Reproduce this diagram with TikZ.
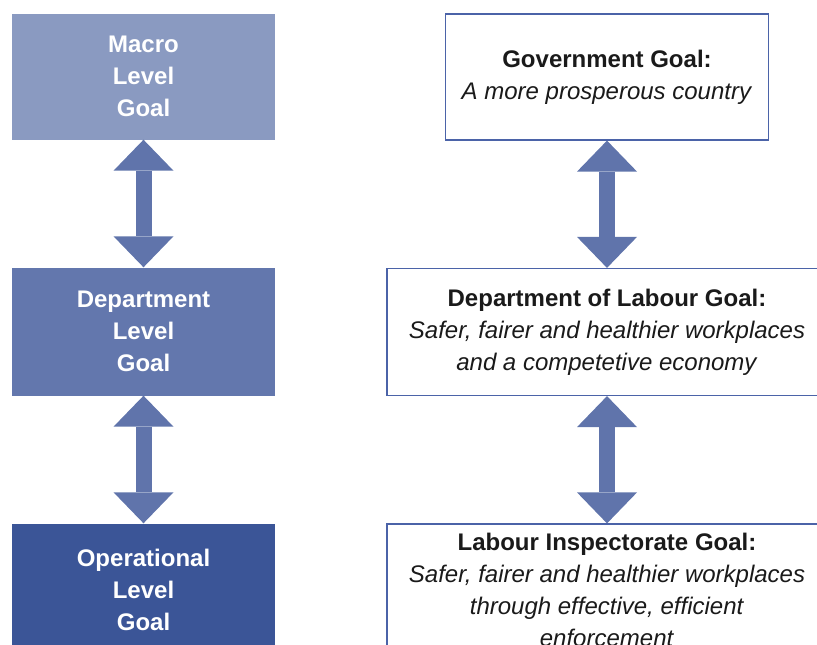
\documentclass[tikz,border=0pt]{standalone}
\usepackage{fontspec}
\setmainfont{Liberation Sans}
\usetikzlibrary{arrows.meta}
\definecolor{macroblue}{HTML}{8A9AC1}
\definecolor{deptblue}{HTML}{6377AD}
\definecolor{opblue}{HTML}{3B5597}
\definecolor{arrowblue}{HTML}{6074AB}
\definecolor{edgeblue}{HTML}{4B63A8}
\definecolor{goaltext}{HTML}{1A1A1A}

\begin{document}
\begin{tikzpicture}[x=1pt, y=-1pt,
    levelbox/.style={rectangle, minimum width=263pt, inner sep=0pt,
      align=center, text=white, font=\fontsize{24}{32}\selectfont\bfseries},
    goalbox/.style={rectangle, draw=edgeblue, line width=1.2pt, fill=white,
      inner sep=0pt, align=center, text=goaltext,
      font=\fontsize{24}{32}\selectfont},
    bigarrow/.style={arrowblue, line width=16pt,
      {Triangle[width=60pt,length=31pt,line width=0pt]}-{Triangle[width=60pt,length=31pt,line width=0pt]}}]
    \clip (0,0) rectangle (817,645);

    % levels on the left
    \node[levelbox, fill=macroblue, minimum height=126pt] (macro) at (143.5,76.5)
      {Macro\\Level\\Goal};
    \node[levelbox, fill=deptblue, minimum height=128pt] (deptlvl) at (143.5,331.5)
      {Department\\Level\\Goal};
    \node[levelbox, fill=opblue, minimum height=132pt] (oplvl) at (143.5,589.5)
      {Operational\\Level\\Goal};

    % goals on the right
    \node[goalbox, minimum width=323pt, minimum height=126pt] (govgoal) at (607,77)
      {\textbf{Government Goal:}\\\textit{A more prosperous country}};
    \node[goalbox, minimum width=440pt, minimum height=127pt] (labgoal) at (607,332)
      {\textbf{Department of Labour Goal:}\\\textit{Safer, fairer and healthier workplaces}\\
       \textit{and a competetive economy}};
    \node[goalbox, minimum width=440pt, minimum height=132pt] (inspgoal) at (607,590)
      {\textbf{Labour Inspectorate Goal:}\\\textit{Safer, fairer and healthier workplaces}\\
       \textit{through effective, efficient}\\\textit{enforcement}};

    % double arrows
    \draw[bigarrow] (macro) -- (deptlvl);
    \draw[bigarrow] (deptlvl) -- (oplvl);
    \draw[bigarrow] (govgoal) -- (labgoal);
    \draw[bigarrow] (labgoal) -- (inspgoal);
\end{tikzpicture}
\end{document}
